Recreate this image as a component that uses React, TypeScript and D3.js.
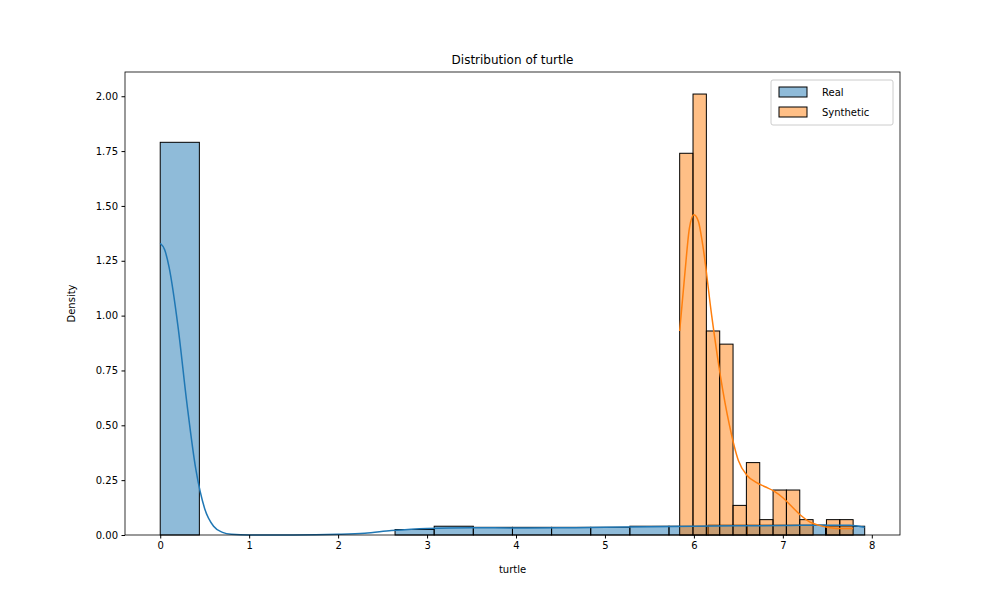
import * as d3 from "d3";
import { useEffect, useRef } from "react";

// Real histogram: 18 bins over [0, 7.92]
const realStart = 0;
const realBinWidth = 0.44;
const realDensity = [1.79, 0, 0, 0, 0, 0, 0.025, 0.04, 0.035, 0.035, 0.035, 0.035, 0.04, 0.04, 0.045, 0.045, 0.045, 0.04];

// Synthetic histogram: 13 bins over [5.84, 7.79]
const synthStart = 5.84;
const synthBinWidth = 0.15;
const synthDensity = [1.74, 2.01, 0.93, 0.87, 0.135, 0.33, 0.07, 0.205, 0.205, 0.07, 0, 0.07, 0.07];

// KDE curves
const realKde: [number, number][] = [
  [0, 1.33], [0.05, 1.3], [0.1, 1.22], [0.2, 0.95], [0.3, 0.6], [0.4, 0.3], [0.5, 0.12],
  [0.6, 0.04], [0.7, 0.012], [0.8, 0.003], [1, 0.0], [1.5, 0.0], [2, 0.003], [2.3, 0.008],
  [2.6, 0.02], [3, 0.03], [3.5, 0.033], [4, 0.032], [4.5, 0.033], [5, 0.035], [5.5, 0.038],
  [6, 0.04], [6.5, 0.042], [7, 0.043], [7.5, 0.045], [7.75, 0.045], [7.92, 0.035],
];
const synthKde: [number, number][] = [
  [5.84, 0.93], [5.9, 1.2], [5.95, 1.4], [6.0, 1.46], [6.05, 1.43], [6.1, 1.32], [6.2, 1.0],
  [6.3, 0.72], [6.4, 0.5], [6.5, 0.34], [6.6, 0.27], [6.7, 0.24], [6.8, 0.22], [6.9, 0.2],
  [7.0, 0.17], [7.1, 0.13], [7.2, 0.09], [7.3, 0.06], [7.4, 0.045], [7.5, 0.035], [7.6, 0.03],
  [7.79, 0.03],
];

const xTicks = [0, 1, 2, 3, 4, 5, 6, 7, 8];
const yTicks = [0, 0.25, 0.5, 0.75, 1.0, 1.25, 1.5, 1.75, 2.0];

export default function App() {
  const ref = useRef<SVGSVGElement | null>(null);

  useEffect(() => {
    const width = 1000;
    const height = 600;
    const margin = { top: 72, right: 100, bottom: 65, left: 125 };

    const svg = d3.select(ref.current).attr("width", width).attr("height", height);
    svg.selectAll("*").remove();
    svg.append("rect").attr("width", width).attr("height", height).attr("fill", "white");

    const x = d3.scaleLinear().domain([-0.396, 8.317]).range([margin.left, width - margin.right]);
    const y = d3.scaleLinear().domain([0, 2.1105]).range([height - margin.bottom, margin.top]);

    const font = "DejaVu Sans, sans-serif";

    const drawBars = (start: number, w: number, vals: number[], fill: string) => {
      svg.append("g").selectAll("rect").data(vals).join("rect")
        .attr("x", (_, i) => x(start + i * w))
        .attr("width", (_, i) => x(start + (i + 1) * w) - x(start + i * w))
        .attr("y", (d) => y(d))
        .attr("height", (d) => y(0) - y(d))
        .attr("fill", fill)
        .attr("fill-opacity", 0.5)
        .attr("stroke", "black")
        .attr("stroke-width", 1);
    };
    drawBars(realStart, realBinWidth, realDensity, "#1f77b4");
    drawBars(synthStart, synthBinWidth, synthDensity, "#ff7f0e");

    const line = d3.line<[number, number]>().x((d) => x(d[0])).y((d) => y(d[1])).curve(d3.curveMonotoneX);
    svg.append("path").attr("d", line(realKde)).attr("fill", "none").attr("stroke", "#1f77b4").attr("stroke-width", 1.5);
    svg.append("path").attr("d", line(synthKde)).attr("fill", "none").attr("stroke", "#ff7f0e").attr("stroke-width", 1.5);

    const xAxis = svg.append("g").attr("transform", `translate(0,${height - margin.bottom})`)
      .call(d3.axisBottom(x).tickValues(xTicks).tickSize(3.5).tickPadding(3.5).tickFormat(d3.format("d")));
    const yAxis = svg.append("g").attr("transform", `translate(${margin.left},0)`)
      .call(d3.axisLeft(y).tickValues(yTicks).tickSize(3.5).tickPadding(3.5).tickFormat(d3.format(".2f")));
    [xAxis, yAxis].forEach((g) => {
      g.selectAll("text").attr("font-size", 10).attr("font-family", font).attr("fill", "black");
      g.selectAll("line").attr("stroke", "black");
      g.select(".domain").remove();
    });

    svg.append("rect")
      .attr("x", margin.left).attr("y", margin.top)
      .attr("width", width - margin.left - margin.right)
      .attr("height", height - margin.top - margin.bottom)
      .attr("fill", "none").attr("stroke", "black").attr("stroke-width", 0.8);

    svg.append("text").attr("x", (margin.left + width - margin.right) / 2).attr("y", 64)
      .attr("text-anchor", "middle").attr("font-family", font).attr("font-size", 12)
      .text("Distribution of turtle");
    svg.append("text").attr("x", (margin.left + width - margin.right) / 2).attr("y", 573)
      .attr("text-anchor", "middle").attr("font-family", font).attr("font-size", 10)
      .text("turtle");
    svg.append("text").attr("transform", `translate(75,${(margin.top + height - margin.bottom) / 2}) rotate(-90)`)
      .attr("text-anchor", "middle").attr("font-family", font).attr("font-size", 10)
      .text("Density");

    // Legend
    const lg = svg.append("g").attr("transform", "translate(771,80)");
    lg.append("rect").attr("width", 122).attr("height", 45).attr("rx", 2)
      .attr("fill", "white").attr("fill-opacity", 0.8).attr("stroke", "#cccccc");
    [["Real", "#1f77b4"], ["Synthetic", "#ff7f0e"]].forEach(([label, c], i) => {
      lg.append("rect").attr("x", 8).attr("y", 7 + i * 20).attr("width", 28).attr("height", 10)
        .attr("fill", c).attr("fill-opacity", 0.5).attr("stroke", "black");
      lg.append("text").attr("x", 51).attr("y", 16 + i * 20).attr("font-family", font)
        .attr("font-size", 10).text(label);
    });
  }, []);

  return <svg ref={ref} style={{ display: "block", margin: "-8px" }} />;
}
